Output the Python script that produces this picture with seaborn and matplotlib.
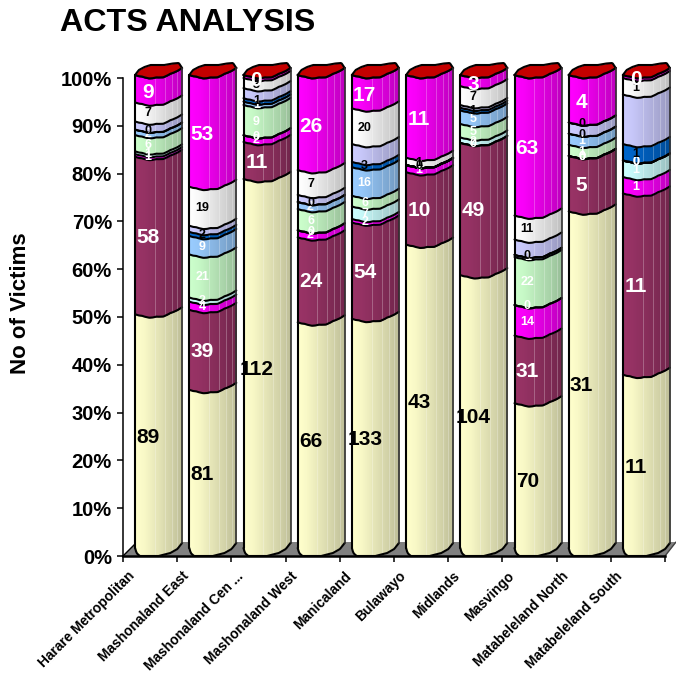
import numpy as np
import pandas as pd
import matplotlib
matplotlib.use("Agg")
import matplotlib.pyplot as plt
from matplotlib.ticker import PercentFormatter
import seaborn as sns

REGIONS = ["Harare Metropolitan", "Mashonaland East", "Mashonaland Cen ...",
           "Mashonaland West", "Manicaland", "Bulawayo", "Midlands",
           "Masvingo", "Matabeleland North", "Matabeleland South"]

# Victim counts per act, one list per stacked series, bottom to top
cream = [89, 81, 112, 66, 133, 43, 104, 70, 31, 11]
plum = [58, 39, 11, 24, 54, 10, 49, 31, 5, 11]
magenta = [1, 4, 2, 2, 2, 1, 0, 14, 0, 1]
cyan = [1, 2, 0, 0, 7, 0, 2, 0, 0, 1]
green = [6, 21, 9, 6, 6, 0, 5, 22, 1, 0]
sky = [2, 9, 1, 2, 16, 0, 5, 1, 1, 0]
navy = [0, 2, 1, 0, 3, 0, 1, 0, 0, 1]
lilac = [3, 3, 3, 2, 10, 0, 1, 7, 1, 3]
white = [7, 19, 3, 7, 20, 1, 7, 11, 0, 1]
fuchsia = [9, 53, 0, 26, 17, 11, 3, 63, 4, 0]

SERIES = [cream, plum, magenta, cyan, green, sky, navy, lilac, white, fuchsia]
COLORS = ["#FFFFCC", "#993366", "#FF00FF", "#CCFFFF", "#CCFFCC",
          "#99CCFF", "#0066CC", "#CCCCFF", "#FFFFFF", "#FF00FF"]
LABEL_COLORS = ["black", "white", "white", "white", "white",
                "white", "black", None, "black", "white"]
LABEL_SIZES = [15, 15, 9, 9, 9, 9, 9, 0, 9, 15]
CAP_COLOR = "#C40000"

FIG_W, FIG_H = 676, 677
AX_L, AX_R, AX_TOP, AX_BOTTOM = 123, 665, 78, 556
PX_X = (AX_R - AX_L) / len(REGIONS)
PX_Y = (AX_BOTTOM - AX_TOP) / 100

sns.set_theme(style="white")
plt.rcParams["font.family"] = ["Liberation Sans", "DejaVu Sans"]
plt.rcParams["font.weight"] = "bold"

fig = plt.figure(figsize=(FIG_W / 100, FIG_H / 100), dpi=100, facecolor="white")
ax = fig.add_axes([AX_L / FIG_W, 1 - AX_BOTTOM / FIG_H,
                   (AX_R - AX_L) / FIG_W, (AX_BOTTOM - AX_TOP) / FIG_H])

counts = np.array(SERIES, dtype=float)
shares = counts / counts.sum(axis=0) * 100
tops = np.cumsum(shares, axis=0)
mids = tops - shares / 2

# Curved outlines of a cylinder section, in pixels above the section's level
U = np.linspace(0, 1, 49)
front = np.interp(U, [0, .08, .2, .38, .5, .6, .7, .8, .9, 1],
                  [0, -1.5, -2.6, -3.2, -2.6, -1.8, -.3, 1.8, 4.5, 7])
wobble = np.interp(U, [0, .15, .3, .45, .6, .75, .9, 1],
                   [0, .6, -.5, .5, -.5, .5, -.4, 0])
front = front + wobble
back = np.interp(U, [0, .08, .2, .33, .62, .8, .93, 1],
                 [0, 5, 8, 10, 10, 11.5, 12, 7])
floor_edge = np.interp(U, [0, .03, .1, .5, .75, .9, 1],
                       [8, 3, 0, 0, 3, 7, 13])
shade = np.interp(U, [0, .2, .45, .75, 1], [1, .97, .9, .82, .74])
RIBS = [.42, .63, .78, .9]
DEPTH_SHIFT = 8.5 / PX_X
CAP_LIFT = 3 / PX_Y
EDGE_LW = 1.5


def shaded(color, u_index):
    rgb = np.array(matplotlib.colors.to_rgb(color))
    return tuple(rgb * shade[u_index])


# Stack by overplotting cumulative bars, tallest first
columns = {}
for s in range(len(SERIES) - 1, -1, -1):
    sns.barplot(x=REGIONS, y=tops[s], color=COLORS[s], saturation=1,
                width=47 / PX_X, ax=ax, zorder=1)
    columns[s] = ax.containers[-1]

# Grey floor of the chart box
floor_x = np.array([-.5, -.5 + 14 / PX_X, 9.5 + 11 / PX_X, 9.5])
floor_y = np.array([0, 14, 14, 0]) / PX_Y
ax.fill(floor_x, floor_y, color="#808080", zorder=0.5, clip_on=False, lw=0)
ax.plot(floor_x[:2], floor_y[:2], color="black", lw=1, zorder=0.6, clip_on=False)
ax.plot(floor_x[2:], floor_y[2:], color="#404040", lw=1, zorder=0.6, clip_on=False)

z = 2.0
last = len(SERIES) - 1
for s in range(len(SERIES)):
    for i, bar in enumerate(columns[s]):
        x0 = bar.get_x() + DEPTH_SHIFT
        w = bar.get_width()
        xs = x0 + U * w
        lift = CAP_LIFT if s == last else 0
        upper = bar.get_height() + lift + front / PX_Y
        if s == 0:
            lower = floor_edge / PX_Y
        else:
            lower = tops[s - 1, i] + front / PX_Y
        # Bands overlap rightwards so no seam shows between neighbours
        for k in range(len(U) - 1):
            ax.fill_between(xs[k:k + 3], lower[k:k + 3], upper[k:k + 3],
                            color=shaded(COLORS[s], k), lw=0, zorder=z,
                            clip_on=False)
        for r in RIBS:
            ax.plot([x0 + r * w] * 2,
                    [np.interp(r, U, lower), np.interp(r, U, upper)],
                    color="white", alpha=.3, lw=.6, zorder=z + .01, clip_on=False)
        bar.set_visible(False)
    z += .1

# Section outlines drawn after all fills, top section first
for s in range(last, -1, -1):
    for i, bar in enumerate(columns[s]):
        x0 = bar.get_x() + DEPTH_SHIFT
        xs = x0 + U * bar.get_width()
        lift = CAP_LIFT if s == last else 0
        ax.plot(xs, bar.get_height() + lift + front / PX_Y, color="black",
                lw=EDGE_LW, zorder=z, clip_on=False, solid_capstyle="round")

# Outer edges and the red lid of each cylinder
for i, bar in enumerate(columns[last]):
    x0 = bar.get_x() + DEPTH_SHIFT
    w = bar.get_width()
    xs = x0 + U * w
    level = bar.get_height() + CAP_LIFT
    ax.fill_between(xs, level + front / PX_Y, level + back / PX_Y,
                    color=CAP_COLOR, lw=0, zorder=z + .1, clip_on=False)
    ax.plot(xs, level + back / PX_Y, color="black", lw=EDGE_LW, zorder=z + .11,
            clip_on=False)
    ax.plot(xs, level + front / PX_Y, color="black", lw=EDGE_LW, zorder=z + .11,
            clip_on=False)
    ax.plot(xs, floor_edge / PX_Y, color="black", lw=EDGE_LW, zorder=z + .11,
            clip_on=False)
    ax.plot([x0, x0], [floor_edge[0] / PX_Y, level], color="black", lw=EDGE_LW,
            zorder=z + .11, clip_on=False)
    ax.plot([x0 + w] * 2, [floor_edge[-1] / PX_Y, level + front[-1] / PX_Y],
            color="#303030", lw=1.2, zorder=z + .11, clip_on=False)

# Value labels sit left of each cylinder's centre line
label_x = np.arange(len(REGIONS)) - 0.04
for s, values in enumerate(SERIES):
    if LABEL_COLORS[s] is None:
        continue
    for i, v in enumerate(values):
        ax.text(label_x[i], mids[s, i], f"{v}", color=LABEL_COLORS[s],
                fontsize=LABEL_SIZES[s], fontweight="bold", ha="center",
                va="center_baseline", zorder=z + 1 + s * .01)

ax.set_xlim(-.5, 9.5)
ax.set_ylim(0, 100)
ax.set_xlabel("")
ax.set_xticks(np.arange(-.5, 10, 1))
ax.set_xticklabels([])
ax.set_yticks(np.arange(0, 101, 10))
ax.yaxis.set_major_formatter(PercentFormatter(100, decimals=0))
ax.tick_params(axis="y", left=True, length=4.5, width=1.1, color="black",
               labelsize=14.5, pad=3.5, labelcolor="black")
ax.tick_params(axis="x", bottom=True, length=4.5, width=1.1, color="black")
for label in ax.get_yticklabels():
    label.set_fontweight("bold")

sns.despine(ax=ax, top=True, right=True)
ax.spines["left"].set_linewidth(1.1)
ax.spines["left"].set_color("black")
ax.spines["bottom"].set_linewidth(1.8)
ax.spines["bottom"].set_color("black")
ax.spines["bottom"].set_zorder(z - .5)

# Slanted region names, anchored just right of each tick
for i, name in enumerate(REGIONS):
    ax.annotate(name, xy=(i - .5, 0), xycoords=("data", "axes fraction"),
                xytext=(6.8, -13), textcoords="offset points",
                rotation=45, rotation_mode="anchor", ha="right", va="center",
                fontsize=9.9, fontweight="bold", color="black")

fig.text(60 / FIG_W, 1 - 23 / FIG_H, "ACTS ANALYSIS", fontsize=23.2, fontweight="bold",
         ha="left", va="center", color="black")
fig.text(20.5 / FIG_W, 1 - 303 / FIG_H, "No of Victims", fontsize=16, fontweight="bold",
         rotation=90, ha="center", va="center", color="black")

fig.savefig("out.png", dpi=100, facecolor="white")
